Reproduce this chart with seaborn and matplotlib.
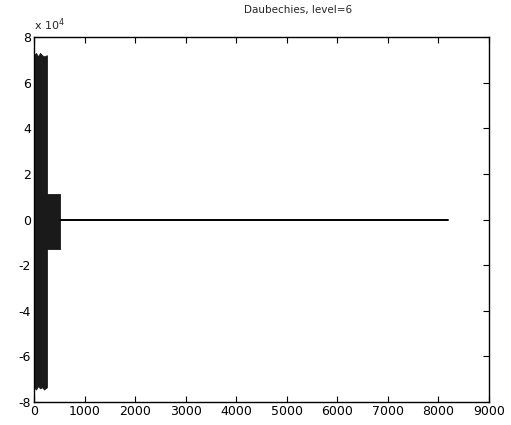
import numpy as np
import matplotlib
matplotlib.use("Agg")
import matplotlib.pyplot as plt
import matplotlib.ticker as mtick
import seaborn as sns

# envelope of the level-6 Daubechies coefficients
block1_x = [0, 40, 80, 120, 160, 200, 256]
block1_hi = [7.2e4, 7.3e4, 7.15e4, 7.3e4, 7.2e4, 7.15e4, 7.2e4]
block1_lo = [-7.35e4, -7.45e4, -7.3e4, -7.4e4, -7.35e4, -7.45e4, -7.35e4]
block2_x = [256, 512]
block2_hi = [1.1e4, 1.1e4]
block2_lo = [-1.3e4, -1.3e4]
tail_x = [512, 8192]
tail_y = [0, 0]

sns.set_style("white")
plt.rcParams["font.family"] = ["DejaVu Sans"]
plt.rcParams["xtick.direction"] = "in"
plt.rcParams["ytick.direction"] = "in"

fig = plt.figure(figsize=(5.11, 4.25), dpi=100)
ax = fig.add_axes([0.0665, 0.054, 0.8905, 0.859])

ax.fill_between(block1_x, block1_lo, block1_hi, color="#1a1a1a", lw=0.6, edgecolor="#1a1a1a")
ax.fill_between(block2_x, block2_lo, block2_hi, color="#1a1a1a", lw=0.6, edgecolor="#1a1a1a")
sns.lineplot(x=tail_x, y=tail_y, ax=ax, color="black", lw=1.4)

ax.set_xlim(0, 9000)
ax.set_ylim(-8e4, 8e4)
ax.set_xticks(np.arange(0, 9001, 1000))
ax.set_yticks(np.arange(-8e4, 8.1e4, 2e4))
ax.yaxis.set_major_formatter(mtick.FuncFormatter(lambda v, _: f"{v/1e4:.0f}"))
ax.tick_params(axis="both", which="both", top=True, right=True, bottom=True, left=True,
               length=4, width=0.8, color="black", labelcolor="black", labelsize=9, pad=2)
for s in ax.spines.values():
    s.set_color("black")
    s.set_linewidth(1.0)

ax.text(0.0, 1.012, r"x 10$^4$", transform=ax.transAxes, fontsize=8, ha="left", va="bottom")
ax.text(0.58, 1.06, "Daubechies, level=6", transform=ax.transAxes, fontsize=7.5,
        ha="center", va="bottom")

plt.savefig("out.png", dpi=100)
plt.close()
